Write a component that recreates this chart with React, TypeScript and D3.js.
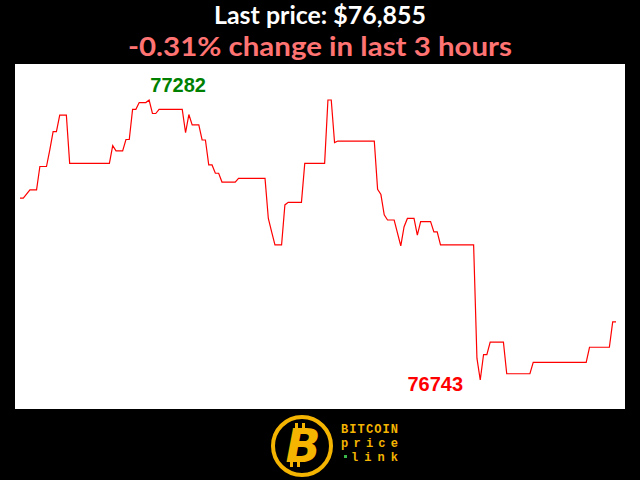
import React from "react";
import * as d3 from "d3";

// minutes since start of the 3-hour window
const minutes = [0, 1, 3, 5, 6, 8, 9, 10, 11, 12, 14, 15, 27, 28, 29, 31, 32, 33, 34, 35, 36, 38, 39, 40, 41, 42, 49, 50, 51, 52, 54, 55, 56, 57, 58, 59, 60, 61, 65, 66, 74, 75, 76, 77, 79, 80, 81, 85, 86, 92, 93, 94, 95, 96, 107, 108, 109, 110, 111, 113, 115, 116, 117, 119, 120, 121, 124, 125, 126, 127, 137, 138, 139, 140, 141, 142, 146, 147, 154, 155, 171, 172, 178, 179, 180];
const prices = [77093, 77093, 77109, 77109, 77154, 77154, 77186, 77221, 77221, 77253, 77253, 77160, 77160, 77194, 77184, 77184, 77206, 77206, 77264, 77264, 77277, 77277, 77282, 77256, 77256, 77264, 77264, 77219, 77254, 77234, 77234, 77205, 77205, 77157, 77157, 77141, 77141, 77124, 77124, 77131, 77131, 77054, 77028, 77003, 77003, 77080, 77085, 77085, 77160, 77160, 77282, 77282, 77200, 77203, 77203, 77110, 77100, 77061, 77051, 77051, 77001, 77038, 77054, 77054, 77022, 77048, 77048, 77028, 77028, 77003, 77003, 76785, 76743, 76792, 76792, 76816, 76816, 76755, 76755, 76777, 76777, 76806, 76806, 76855, 76855];
const titleLine1 = "Last price: $76,855";
const titleLine2 = "-0.31% change in last 3 hours";
const logoWords = ["BITCOIN", "price", "link"];

const W = 640;
const H = 480;
const plot = { x0: 15, y0: 64, x1: 625, y1: 409 };

export default function App() {
  const data = minutes.map((m, i) => ({ m, p: prices[i] }));
  const x = d3.scaleLinear().domain([0, 180]).range([20, 616]);
  const pMin = d3.min(prices) as number;
  const pMax = d3.max(prices) as number;
  const y = d3.scaleLinear().domain([pMin, pMax]).range([380, 100]);
  const line = d3
    .line<{ m: number; p: number }>()
    .x((d) => x(d.m))
    .y((d) => y(d.p));
  const maxD = data[prices.indexOf(pMax)];
  const minD = data[prices.indexOf(pMin)];
  const gold = "#f4b400";
  const cx = 302;
  const cy = 446;

  return (
    <svg
      width={W}
      height={H}
      style={{ position: "absolute", left: 0, top: 0, display: "block" }}
    >
      <rect x={0} y={0} width={W} height={H} fill="#000" />
      <text
        x={320}
        y={23.8}
        textAnchor="middle"
        fill="#fff"
        fontFamily="Lato"
        fontWeight={700}
        fontSize={24}
        textLength={212}
        lengthAdjust="spacingAndGlyphs"
      >
        {titleLine1}
      </text>
      <text
        x={320}
        y={56}
        textAnchor="middle"
        fill="#ff7373"
        fontFamily="Lato"
        fontWeight={700}
        fontSize={27.5}
        textLength={384}
        lengthAdjust="spacingAndGlyphs"
      >
        {titleLine2}
      </text>
      <rect
        x={plot.x0}
        y={plot.y0}
        width={plot.x1 - plot.x0}
        height={plot.y1 - plot.y0}
        fill="#fff"
      />
      <path d={line(data) || ""} fill="none" stroke="#ff0000" strokeWidth={1.2} />
      <text
        x={x(maxD.m) + 29}
        y={92}
        textAnchor="middle"
        fill="#008000"
        fontFamily="Liberation Sans"
        fontWeight={700}
        fontSize={20}
      >
        {pMax}
      </text>
      <text
        x={x(minD.m) - 45}
        y={391}
        textAnchor="middle"
        fill="#ff0000"
        fontFamily="Liberation Sans"
        fontWeight={700}
        fontSize={20}
      >
        {pMin}
      </text>
      {/* logo */}
      <circle cx={cx} cy={cy} r={29} fill="#000" stroke={gold} strokeWidth={4} />
      <g fill={gold}>
        <rect x={cx - 7} y={cy - 23} width={3} height={6} />
        <rect x={cx} y={cy - 23} width={3} height={6} />
        <rect x={cx - 12} y={cy + 15} width={3} height={6} />
        <rect x={cx - 5} y={cy + 15} width={3} height={6} />
      </g>
      <text
        x={cx + 1}
        y={cy + 16}
        textAnchor="middle"
        fill={gold}
        fontFamily="DejaVu Sans"
        fontWeight={700}
        fontStyle="italic"
        fontSize={46}
      >
        B
      </text>
      <text
        x={341}
        y={433}
        fill={gold}
        fontFamily="Liberation Mono"
        fontWeight={700}
        fontSize={12}
        textLength={57}
        lengthAdjust="spacing"
      >
        {logoWords[0]}
      </text>
      <text
        x={341}
        y={447}
        fill={gold}
        fontFamily="Liberation Mono"
        fontWeight={700}
        fontSize={12}
        textLength={57}
        lengthAdjust="spacing"
      >
        {logoWords[1]}
      </text>
      <rect x={344} y={455} width={3} height={3} fill="#3ab54a" />
      <text
        x={351}
        y={461}
        fill={gold}
        fontFamily="Liberation Mono"
        fontWeight={700}
        fontSize={12}
        textLength={47}
        lengthAdjust="spacing"
      >
        {logoWords[2]}
      </text>
    </svg>
  );
}
